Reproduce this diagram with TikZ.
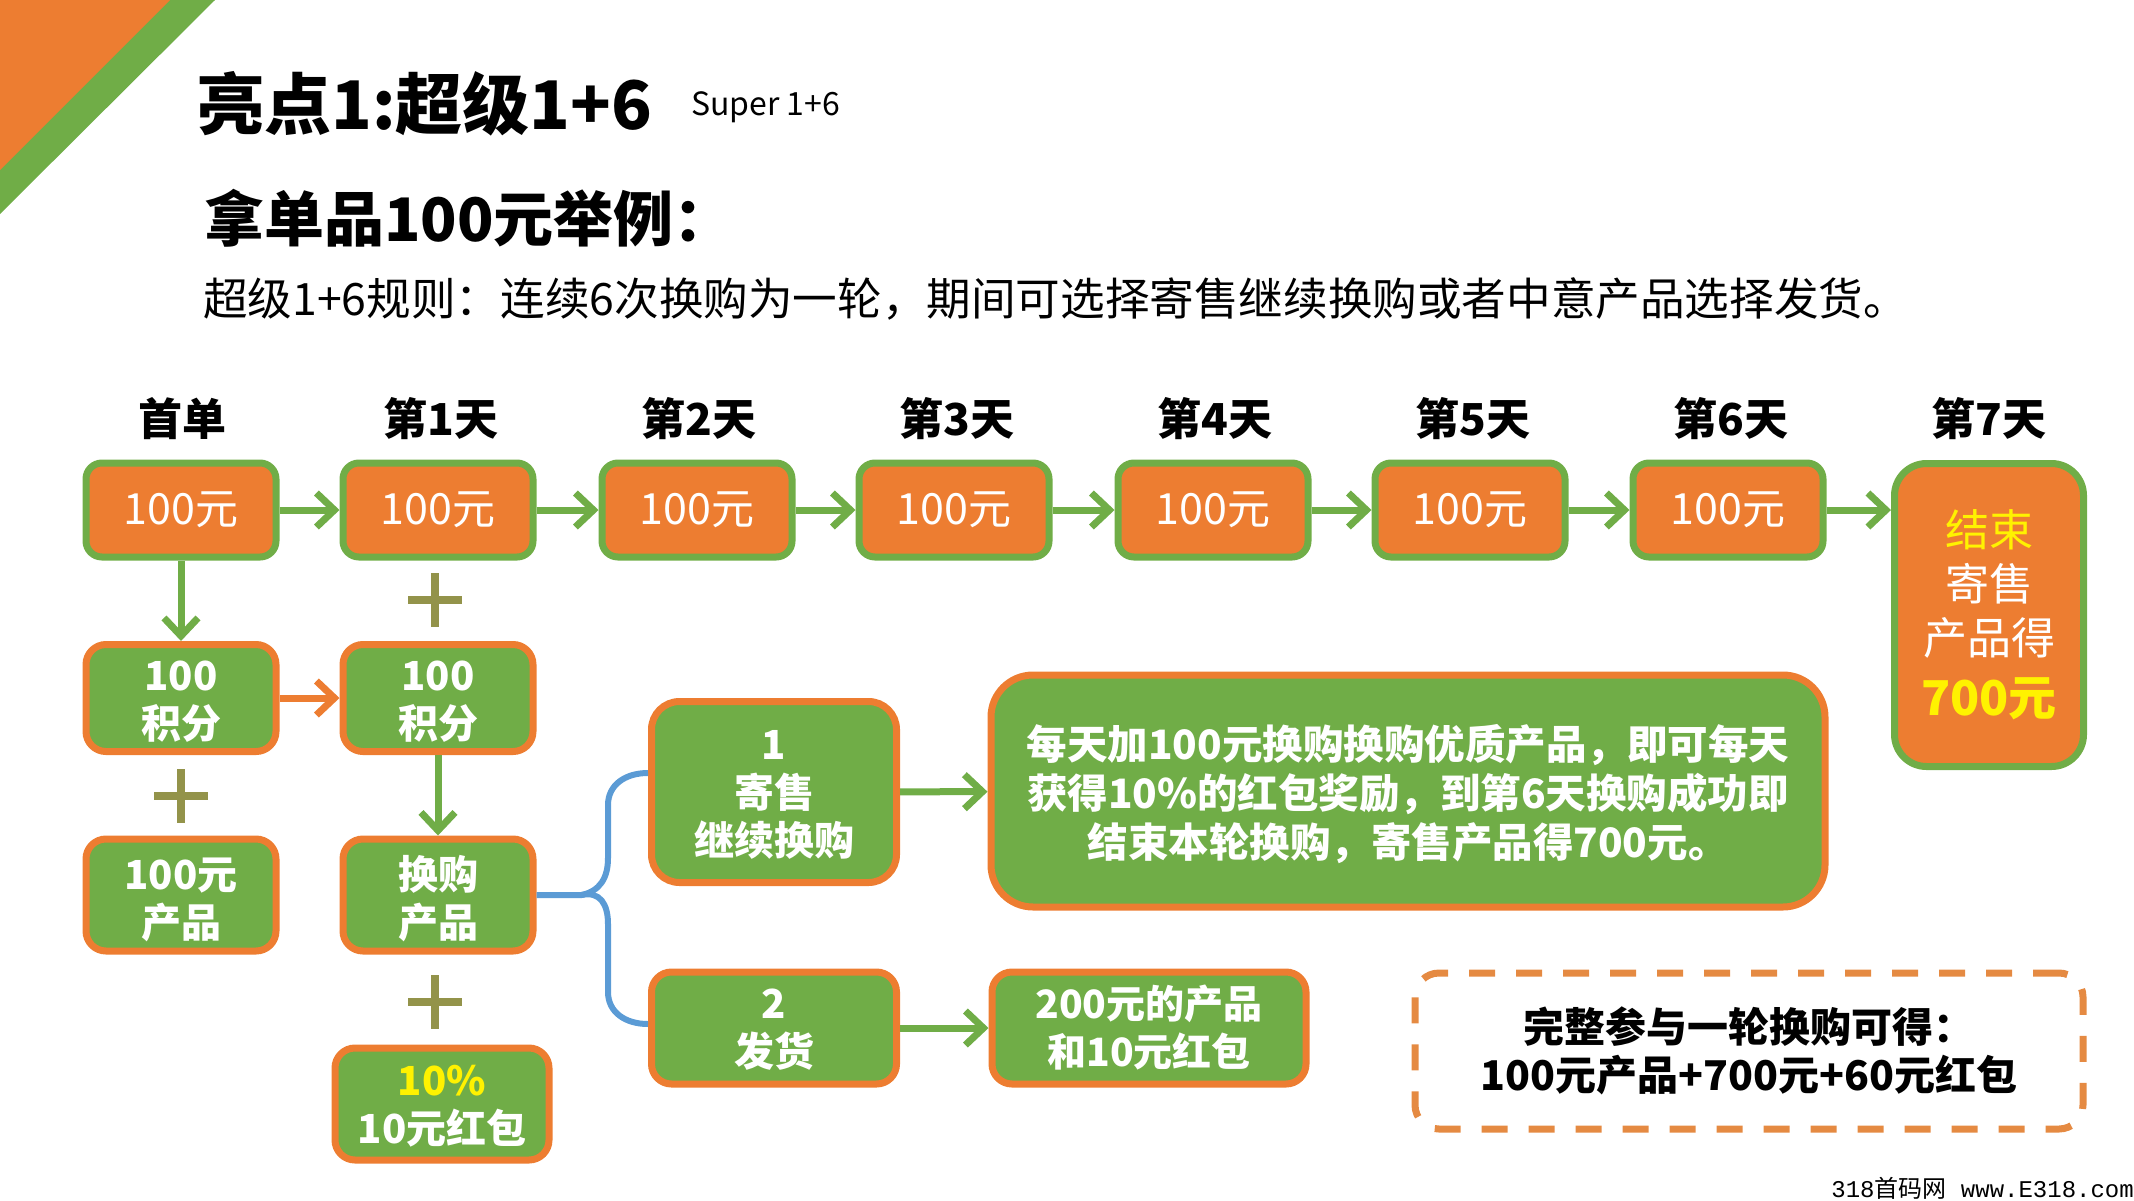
\documentclass[tikz,border=0pt]{standalone}
\usepackage{fontspec}
\setmainfont{Noto Sans CJK SC}
\setmonofont{Liberation Mono}
\newfontfamily\blackfont{Noto Sans CJK SC Black}
\usetikzlibrary{arrows.meta,shapes.misc}
\definecolor{myorange}{HTML}{ED7D31}
\definecolor{mygreen}{HTML}{70AD47}
\definecolor{myblue}{HTML}{5B9BD5}
\definecolor{myplus}{HTML}{93934A}
\definecolor{mydash}{HTML}{E58A42}
\newcommand{\boxfont}{\fontsize{40pt}{48pt}\selectfont\bfseries}
\newcommand{\topgap}[1]{\rule{0pt}{#1pt}}
\tikzset{
	costbox/.style={draw=mygreen,fill=myorange,line width=7pt,rounded corners=16pt,minimum width=190pt,minimum height=94pt,text=white,inner sep=0pt,font=\fontsize{43pt}{50pt}\selectfont},
	infobox/.style={draw=myorange,fill=mygreen,line width=7pt,rounded corners=20pt,text=white,inner sep=0pt,align=center,font=\boxfont},
	dayhead/.style={inner sep=0pt,font=\fontsize{44pt}{50pt}\selectfont\bfseries},
	plusmark/.style={cross out,draw=myplus,line width=8pt,rotate=45,minimum size=30pt,inner sep=0pt},
	greenarrow/.style={draw=mygreen,line width=7pt,-{Straight Barb[length=18pt,width=34pt]}},
	orangearrow/.style={draw=myorange,line width=7pt,-{Straight Barb[length=18pt,width=34pt]}},
	bluelink/.style={draw=myblue,line width=6pt},
}
\begin{document}
\begin{tikzpicture}[x=1pt,y=-1pt]
	\useasboundingbox (0,0) rectangle (2134,1200);
	\fill[mygreen] (0,0) -- (215,0) -- (0,214) -- cycle;
	\fill[myorange] (0,0) -- (170,0) -- (0,170) -- cycle;
	\node[anchor=west,inner sep=0pt,font=\fontsize{67pt}{74pt}\selectfont\blackfont] (title) at (197,104) {亮点1:超级1+6};
	\node[anchor=west,inner sep=0pt,font=\fontsize{32pt}{38pt}\selectfont] (subtitle) at (691,107) {Super 1+6};
	\node[anchor=west,inner sep=0pt,font=\fontsize{60pt}{66pt}\selectfont\blackfont] (example) at (204,218) {拿单品100元举例：};
	\node[anchor=west,inner sep=0pt,font=\fontsize{44.6pt}{50pt}\selectfont] (rule) at (203,299) {超级1+6规则：连续6次换购为一轮，期间可选择寄售继续换购或者中意产品选择发货。};
	\foreach \i/\x/\t in {0/182/首单,1/441/第1天,2/699/第2天,3/957/第3天,4/1215/第4天,5/1473/第5天,6/1731/第6天,7/1989/第7天}
		\node[dayhead] (head\i) at (\x,419) {\t};
	\foreach \i/\x in {0/181,1/438,2/697,3/954,4/1213,5/1470,6/1728}
		\node[costbox] (day\i) at (\x,510) {100元};
	\node[costbox,rounded corners=32pt,minimum width=189pt,minimum height=303pt,align=center,font=\fontsize{44pt}{54pt}\selectfont] (last) at (1989,615) {\textcolor{yellow}{结束}\\寄售\\产品得\\[7pt]\textcolor{yellow}{\fontsize{48pt}{54pt}\selectfont\blackfont 700元}};
	\node[infobox,minimum width=190pt,minimum height=107pt] (pts0) at (181,698) {\topgap{37}100\\积分};
	\node[infobox,minimum width=190pt,minimum height=107pt] (pts1) at (438,698) {\topgap{37}100\\积分};
	\node[infobox,minimum width=190pt,minimum height=112pt] (prod0) at (181,895) {\topgap{42}100元\\产品};
	\node[infobox,minimum width=190pt,minimum height=112pt] (swap) at (438,895) {\topgap{42}换购\\产品};
	\node[infobox,minimum width=214pt,minimum height=112pt] (bonus) at (442,1104) {\topgap{34}\textcolor{yellow}{10\%}\\10元红包};
	\node[infobox,minimum width=245pt,minimum height=181pt,rounded corners=28pt] (sell) at (774,792) {\topgap{35}1\\寄售\\继续换购};
	\node[infobox,minimum width=245pt,minimum height=112pt] (ship) at (774,1028) {\topgap{32}2\\发货};
	\node[infobox,minimum width=834pt,minimum height=232pt,rounded corners=42pt,font=\fontsize{40.5pt}{49pt}\selectfont\bfseries] (note) at (1408,791) {\topgap{41}每天加100元换购换购优质产品，即可每天\\获得10\%的红包奖励，到第6天换购成功即\\结束本轮换购，寄售产品得700元。};
	\node[infobox,minimum width=314pt,minimum height=112pt,font=\fontsize{39pt}{48pt}\selectfont\bfseries] (gift) at (1149,1028) {200元的产品\\和10元红包};
	\node[draw=mydash,line width=7pt,dash pattern=on 26pt off 21pt,rounded corners=24pt,minimum width=668pt,minimum height=156pt,inner sep=0pt,align=center,font=\fontsize{41pt}{48pt}\selectfont\bfseries] (total) at (1749,1051) {完整参与一轮换购可得：\\100元产品+700元+60元红包};
	\node[plusmark] (plus1) at (435,600) {};
	\node[plusmark] (plus2) at (181,796) {};
	\node[plusmark] (plus3) at (435,1002) {};
	\foreach \a/\b in {day0/day1,day1/day2,day2/day3,day3/day4,day4/day5,day5/day6,day0/pts0,pts1/swap,sell/note,ship/gift}
		\draw[greenarrow] (\a) -- (\b);
	\draw[greenarrow] (day6) -- (day6 -| last.west);
	\draw[orangearrow] (pts0) -- (pts1);
	\coordinate (fork) at ([xshift=45pt]swap.east);
	\coordinate (sellin) at ([yshift=19pt]sell.west);
	\coordinate (shipin) at ([yshift=4pt]ship.west);
	\draw[bluelink] (swap.east) -- (fork) .. controls (600,891) and (608,878) .. (608,858) -- (608,805) .. controls (608,785) and (625,773) .. (sellin);
	\draw[bluelink] (fork) .. controls (600,891) and (608,904) .. (608,924) -- (608,992) .. controls (608,1012) and (625,1024) .. (shipin);
	\node[anchor=east,inner sep=0pt,font=\fontsize{24pt}{28pt}\selectfont\ttfamily] (mark) at (2134,1188) {318{\rmfamily 首码网} www.E318.com};
\end{tikzpicture}
\end{document}
